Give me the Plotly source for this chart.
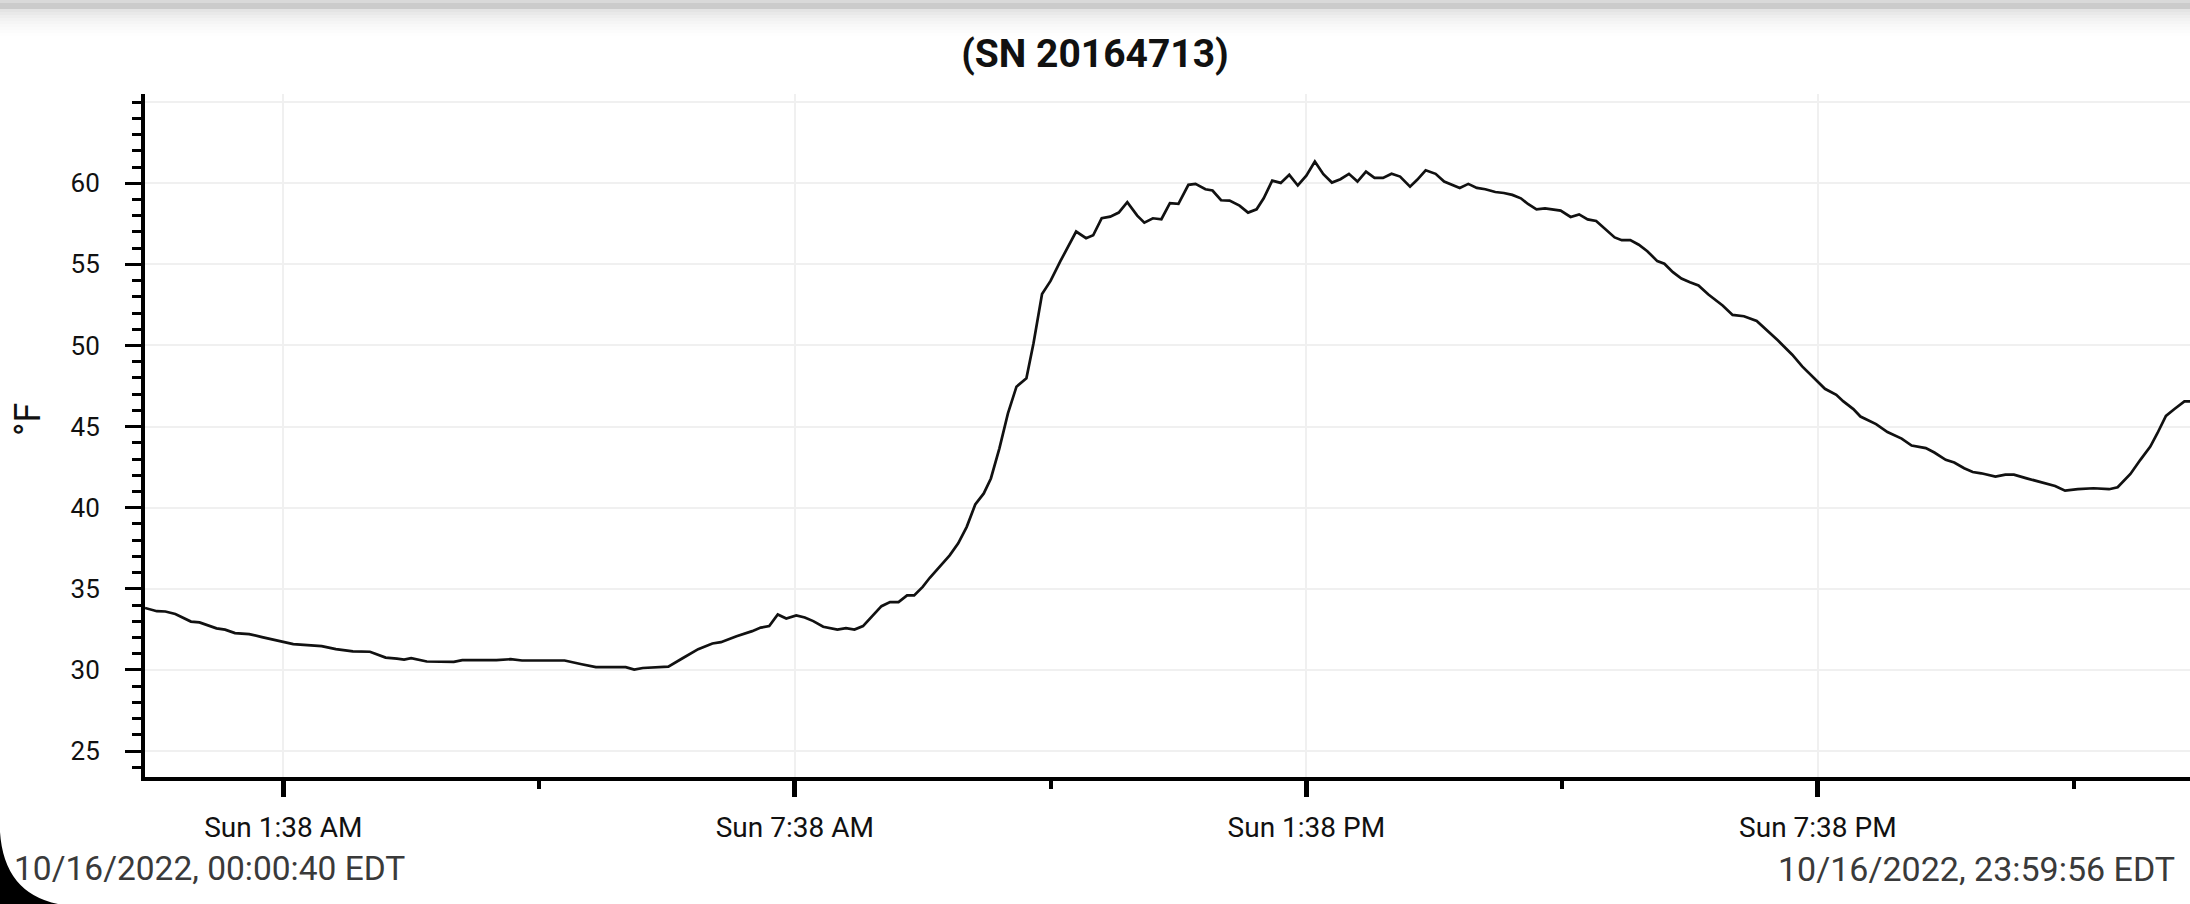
import plotly.graph_objects as go

# logger readings, 16 Oct 2022 (local time, EDT)
DAY = "2022-10-16"

times = [
    "00:00:40", "00:09", "00:15", "00:22", "00:33", "00:39", "00:51", "00:57",
    "01:04", "01:14", "01:23", "01:33", "01:45", "01:55", "02:05", "02:15",
    "02:27", "02:39", "02:50", "02:58", "03:03", "03:08", "03:19", "03:38",
    "03:44", "04:08", "04:18", "04:26", "04:56", "05:08", "05:18", "05:39",
    "05:45", "05:51", "06:09", "06:19", "06:30", "06:40", "06:46", "06:57",
    "07:08", "07:14", "07:20", "07:26", "07:32", "07:39", "07:45", "07:51",
    "07:58", "08:08", "08:14", "08:20", "08:26", "08:39", "08:45", "08:51",
    "08:57", "09:02", "09:08", "09:13", "09:22", "09:27", "09:33", "09:39",
    "09:45", "09:51", "09:56", "10:02", "10:08", "10:14", "10:21", "10:26",
    "10:32", "10:38", "10:45", "10:50", "10:56", "11:03", "11:08", "11:14",
    "11:20", "11:26", "11:32", "11:39", "11:44", "11:50", "11:56", "12:02",
    "12:08", "12:15", "12:20", "12:27", "12:32", "12:38", "12:44", "12:51",
    "12:57", "13:03", "13:08", "13:14", "13:20", "13:26", "13:32", "13:38",
    "13:44", "13:50", "13:56", "14:02", "14:08", "14:14", "14:20", "14:26",
    "14:32", "14:38", "14:44", "14:51", "14:56", "15:02", "15:09", "15:15",
    "15:20", "15:26", "15:32", "15:38", "15:44", "15:51", "15:57", "16:03",
    "16:09", "16:14", "16:20", "16:26", "16:37", "16:44", "16:50", "16:56",
    "17:02", "17:08", "17:15", "17:20", "17:26", "17:32", "17:38", "17:45",
    "17:50", "17:56", "18:02", "18:08", "18:14", "18:21", "18:31", "18:38",
    "18:46", "18:55", "19:03", "19:10", "19:14", "19:20", "19:27", "19:34",
    "19:43", "19:51", "19:56", "20:03", "20:08", "20:19", "20:27", "20:37",
    "20:44", "20:54", "21:00", "21:08", "21:14", "21:21", "21:27", "21:33",
    "21:43", "21:50", "21:56", "22:05", "22:14", "22:25", "22:32", "22:41",
    "22:52", "23:03", "23:09", "23:18", "23:25", "23:32", "23:37", "23:43",
    "23:49", "23:56", "23:59:56",
]

temps_f = [
    33.82, 33.62, 33.60, 33.45, 32.98, 32.93, 32.56, 32.48,
    32.27, 32.21, 32.02, 31.82, 31.59, 31.53, 31.47, 31.28,
    31.14, 31.12, 30.76, 30.70, 30.64, 30.72, 30.52, 30.50,
    30.60, 30.60, 30.66, 30.58, 30.58, 30.35, 30.17, 30.17,
    30.02, 30.12, 30.20, 30.72, 31.28, 31.63, 31.71, 32.08,
    32.39, 32.61, 32.70, 33.42, 33.17, 33.36, 33.23, 33.01,
    32.66, 32.49, 32.57, 32.49, 32.70, 33.93, 34.18, 34.18,
    34.59, 34.59, 35.12, 35.68, 36.56, 37.06, 37.80, 38.82,
    40.20, 40.88, 41.80, 43.66, 45.81, 47.46, 47.97, 50.13,
    53.17, 53.98, 55.21, 55.99, 57.02, 56.61, 56.79, 57.84,
    57.94, 58.19, 58.83, 58.00, 57.57, 57.84, 57.78, 58.77,
    58.73, 59.90, 59.96, 59.63, 59.55, 58.95, 58.93, 58.62,
    58.19, 58.39, 59.07, 60.16, 60.02, 60.52, 59.86, 60.47,
    61.34, 60.56, 60.04, 60.25, 60.58, 60.10, 60.72, 60.33,
    60.33, 60.58, 60.41, 59.79, 60.21, 60.80, 60.58, 60.10,
    59.90, 59.71, 59.96, 59.71, 59.63, 59.46, 59.40, 59.28,
    59.07, 58.72, 58.39, 58.45, 58.31, 57.92, 58.08, 57.77,
    57.67, 57.20, 56.66, 56.49, 56.49, 56.21, 55.81, 55.20,
    55.04, 54.52, 54.13, 53.90, 53.70, 53.14, 52.46, 51.88,
    51.80, 51.51, 50.88, 50.30, 49.95, 49.43, 48.71, 48.09,
    47.33, 46.96, 46.55, 46.08, 45.62, 45.15, 44.66, 44.26,
    43.83, 43.67, 43.40, 42.95, 42.78, 42.43, 42.20, 42.12,
    41.92, 42.04, 42.04, 41.81, 41.59, 41.34, 41.05, 41.14,
    41.20, 41.14, 41.26, 42.08, 42.95, 43.77, 44.59, 45.66,
    46.08, 46.55, 46.55,
]

tick_times = ["01:38", "07:38", "13:38", "19:38"]
tick_labels = ["Sun 1:38 AM", "Sun 7:38 AM", "Sun 1:38 PM", "Sun 7:38 PM"]
y_ticks = [25, 30, 35, 40, 45, 50, 55, 60]
y_top_grid = 65

title_text = "(SN 20164713)"
unit_text = "°F"
start_label = "10/16/2022, 00:00:40 EDT"
end_label = "10/16/2022, 23:59:56 EDT"

# ---------------------------------------------------------------------------
# page geometry (pixels)
W, H = 2190, 904
ML, MR, MT, MB = 145, 0, 94, 127
PW, PH = W - ML - MR, H - MT - MB
FONT = "Roboto"


def px(x):
    """pixel x -> paper x"""
    return (x - ML) / PW


def py(y):
    """pixel y (from top) -> paper y"""
    return (H - MB - y) / PH


x_vals = [f"{DAY} {t}" for t in times]

fig = go.Figure(go.Scatter(
    x=x_vals, y=temps_f, mode="lines",
    line=dict(color="#111111", width=2.7),
    hoverinfo="skip", showlegend=False,
))

shapes = []
# faint grid line at the top of the scale (no label there)
shapes.append(dict(type="line", xref="paper", yref="y", x0=0, x1=1,
                   y0=y_top_grid, y1=y_top_grid, layer="below",
                   line=dict(color="#f0f0f0", width=2)))

# shadow strip along the top edge of the page
shapes.append(dict(type="rect", xref="paper", yref="paper", x0=px(0), x1=px(W),
                   y0=py(0), y1=py(3), line_width=0, fillcolor="#d9d9d9"))
shapes.append(dict(type="rect", xref="paper", yref="paper", x0=px(0), x1=px(W),
                   y0=py(3), y1=py(9), line_width=0, fillcolor="#cbcbcb"))
fade = ["#e4e4e4", "#e9e9e9", "#eeeeee", "#f2f2f2", "#f5f5f5",
        "#f8f8f8", "#fafafa", "#fcfcfc", "#fefefe"]
for i, c in enumerate(fade):
    shapes.append(dict(type="rect", xref="paper", yref="paper", x0=px(0), x1=px(W),
                       y0=py(9 + 3 * i), y1=py(12 + 3 * i), line_width=0, fillcolor=c))

# rounded screen corner, bottom left
shapes.append(dict(
    type="path", xref="paper", yref="paper", line_width=0, fillcolor="black",
    path=(f"M {px(0)},{py(832)} Q {px(4)},{py(893)} {px(58)},{py(904)} "
          f"L {px(0)},{py(904)} Z"),
))

annotations = [
    dict(text=unit_text, xref="paper", yref="paper", x=px(28), y=py(420),
         textangle=-90, showarrow=False, xanchor="center", yanchor="middle",
         font=dict(family=FONT, size=36, color="#111111")),
    dict(text=start_label, xref="paper", yref="paper", x=px(12), y=py(869),
         showarrow=False, xanchor="left", yanchor="middle",
         font=dict(family=FONT, size=33.5, color="#3a3a3a")),
    dict(text=end_label, xref="paper", yref="paper", x=px(2177), y=py(869),
         showarrow=False, xanchor="right", yanchor="middle",
         font=dict(family=FONT, size=34, color="#3a3a3a")),
]

fig.update_layout(
    width=W, height=H,
    margin=dict(l=ML, r=MR, t=MT, b=MB, autoexpand=False),
    paper_bgcolor="white", plot_bgcolor="white",
    font=dict(family=FONT, color="#111111"),
    title=dict(text=f"<b>{title_text}</b>", x=0.5, xanchor="center",
               xref="container", yref="container", y=1 - 53 / H, yanchor="middle",
               font=dict(family=FONT, size=39, color="#111111")),
    shapes=shapes,
    annotations=annotations,
    hovermode=False,
)

fig.update_xaxes(
    type="date",
    range=[f"{DAY} 00:00:40", f"{DAY} 23:59:56"],
    tickmode="array",
    tickvals=[f"{DAY} {t}" for t in tick_times],
    ticktext=tick_labels,
    ticks="outside", ticklen=16, tickwidth=5, tickcolor="black",
    ticklabelstandoff=6,
    tickfont=dict(family=FONT, size=28, color="#111111"),
    showline=True, linewidth=4, linecolor="black",
    showgrid=True, gridcolor="#f0f0f0", gridwidth=2,
    zeroline=False,
    minor=dict(tick0=f"{DAY} 01:38", dtick=3 * 3600 * 1000, ticks="outside",
               ticklen=8, tickwidth=4, tickcolor="black", showgrid=False),
)

fig.update_yaxes(
    range=[23.4, 65.5],
    tickmode="array", tickvals=y_ticks,
    ticks="outside", ticklen=16, tickwidth=3, tickcolor="black",
    ticklabelstandoff=20,
    tickfont=dict(family=FONT, size=26, color="#111111"),
    showline=True, linewidth=4, linecolor="black",
    showgrid=True, gridcolor="#f0f0f0", gridwidth=2,
    zeroline=False,
    minor=dict(tick0=0, dtick=1, ticks="outside", ticklen=9, tickwidth=3,
               tickcolor="black", showgrid=False),
)

# the page is exactly the figure: drop the default body margin
fig.write_html("out.html", config={"displayModeBar": False},
               post_script="document.body.style.margin = '0';")
